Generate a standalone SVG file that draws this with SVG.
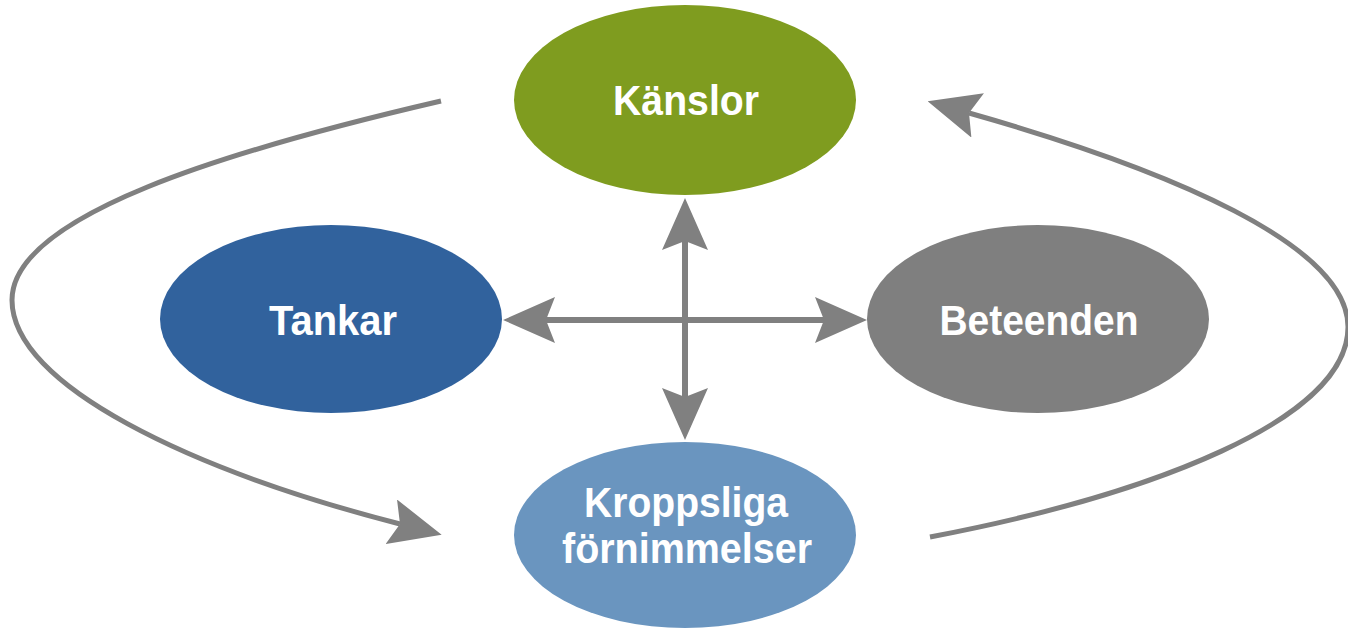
<svg xmlns="http://www.w3.org/2000/svg" width="1348" height="628" viewBox="0 0 1348 628">
<style>
.lbl{font-family:"Liberation Sans",Arial,sans-serif;font-weight:bold;font-size:42px;fill:#ffffff;text-anchor:middle}
.conn{fill:none;stroke:#808080}
</style>
<defs>
<marker id="ah" markerUnits="userSpaceOnUse" viewBox="0 0 52 46" refX="9" refY="23" markerWidth="52" markerHeight="46" orient="auto-start-reverse">
<path d="M0,0 L52,23 L0,46 L9,23 Z" fill="#808080"/>
</marker>
</defs>
<rect width="1348" height="628" fill="#ffffff"/>
<g id="connectors">
<path class="conn" stroke-width="6" d="M685,241 L685,397" marker-start="url(#ah)" marker-end="url(#ah)"/>
<path class="conn" stroke-width="6" d="M546,320 L824,320" marker-start="url(#ah)" marker-end="url(#ah)"/>
<path class="conn" stroke-width="5" d="M441,101 C 230,150 12,215 12,300 C 12,385 190,470 400,524" marker-end="url(#ah)"/>
<path class="conn" stroke-width="5" d="M930,537 C 1150,495 1348,420 1348,327 C 1348,245 1170,170 969,113" marker-end="url(#ah)"/>
</g>
<g id="node-kanslor">
<ellipse cx="685" cy="100" rx="171" ry="95" fill="#7f9c1f"/>
<text class="lbl" x="686" y="115" textLength="146" lengthAdjust="spacingAndGlyphs">Känslor</text>
</g>
<g id="node-tankar">
<ellipse cx="331" cy="319" rx="171" ry="94" fill="#31629d"/>
<text class="lbl" x="333" y="335" textLength="128" lengthAdjust="spacingAndGlyphs">Tankar</text>
</g>
<g id="node-beteenden">
<ellipse cx="1038" cy="319" rx="171" ry="94" fill="#7f7f7f"/>
<text class="lbl" x="1039" y="335" textLength="199" lengthAdjust="spacingAndGlyphs">Beteenden</text>
</g>
<g id="node-kroppsliga">
<ellipse cx="685" cy="535" rx="171" ry="93" fill="#6a95bf"/>
<text class="lbl" x="686" y="517" textLength="204" lengthAdjust="spacingAndGlyphs">Kroppsliga</text>
<text class="lbl" x="687" y="563" textLength="250" lengthAdjust="spacingAndGlyphs">förnimmelser</text>
</g>
</svg>
